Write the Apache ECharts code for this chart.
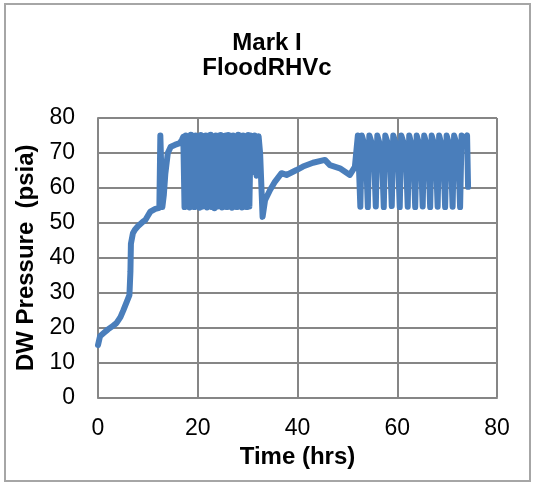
<!DOCTYPE html>
<html>
<head>
<meta charset="utf-8">
<script src="https://cdn.jsdelivr.net/npm/echarts@6/dist/echarts.min.js"></script>
<style>
  html, body { margin: 0; padding: 0; background: #fff; }
  #chart { width: 533px; height: 483px; }
</style>
</head>
<body>
<div id="chart"></div>
<script>
// Tiempo (hrs) y presion del drywell (psia)
const timeHrs = [
  0, 0.4, 1.2, 2.0, 3.0, 3.7, 4.5, 5.1, 5.8, 6.3, 6.5, 6.6, 7.0, 7.4, 8.0, 9.0, 9.5, 10.0, 10.5, 11.5, 12.3,
  12.5, 12.7, 12.9, 13.2, 13.5, 14.0, 14.6, 15.4, 16.4, 16.8, 17.1,
  17.35, 17.6, 17.85, 18.1, 18.35, 18.6, 18.85, 19.1, 19.35, 19.6, 19.85, 20.1, 20.35, 20.6, 20.85, 21.1,
  21.35, 21.6, 21.85, 22.1, 22.35, 22.6, 22.85, 23.1, 23.35, 23.6, 23.85, 24.1, 24.35, 24.6, 24.85, 25.1,
  25.35, 25.6, 25.85, 26.1, 26.35, 26.6, 26.85, 27.1, 27.35, 27.6, 27.85, 28.1, 28.35, 28.6, 28.85, 29.1,
  29.35, 29.6, 29.85, 30.1, 30.35, 30.6,
  31.0, 31.4, 31.8, 32.2, 32.5, 33.0,
  33.5, 34.5, 35.5, 36.8, 37.8, 39.8, 41.1, 43.1, 45.5, 46.5, 48.5, 50.5, 51.5,
  52.1, 52.6, 52.9, 53.7, 54.1, 54.4, 55.3, 55.7, 56.0, 56.9, 57.3, 57.6, 58.5, 58.9, 59.2, 60.1,
  60.5, 60.8, 61.7, 62.1, 62.4, 63.2, 63.6, 63.9, 64.7, 65.1, 65.4, 66.2, 66.6, 66.9, 67.7, 68.1,
  68.4, 69.2, 69.6, 69.9, 70.7, 71.1, 71.4, 72.2, 72.6, 72.9, 73.6, 74.0, 74.2
];
const pressure = [
  15.0, 17.5, 18.5, 19.5, 20.5, 21.3, 23.0, 25.0, 27.5, 29.3, 36.0, 44.0, 47.0, 48.0, 49.0, 50.3, 50.8, 52.0, 53.2, 54.0, 54.3,
  75.0, 75.0, 54.5, 58.0, 64.0, 70.0, 71.8, 72.3, 72.8, 73.7, 74.6,
  54.5, 75.0, 54.8, 74.8, 54.4, 75.2, 54.6, 74.9, 54.5, 75.0, 54.8, 74.7, 54.3, 75.1, 54.6, 74.8,
  54.9, 75.0, 54.4, 74.9, 54.7, 75.2, 54.5, 74.8, 54.2, 75.0, 54.6, 74.9, 54.8, 75.1, 54.4, 74.8,
  54.6, 75.0, 54.5, 75.1, 54.7, 74.9, 54.3, 75.0, 54.6, 74.8, 54.5, 75.2, 54.8, 74.9, 54.4, 75.0,
  54.6, 74.8, 54.5, 75.1, 54.7, 75.0,
  64.5, 75.0, 63.5, 74.8, 70.0, 51.7,
  56.5, 59.4, 61.8, 64.2, 63.7, 65.1, 66.1, 67.2, 68.0, 66.5, 65.6, 63.7, 66.0,
  75.0, 54.6, 75.0, 71.0, 54.5, 75.0, 71.0, 54.7, 75.0, 70.5, 54.5, 75.0, 71.0, 54.8, 75.0, 70.8,
  54.5, 75.0, 71.0, 54.6, 75.0, 70.5, 54.5, 75.0, 71.0, 54.7, 75.0, 70.8, 54.5, 75.0, 71.0, 54.6,
  75.0, 70.5, 54.5, 75.0, 71.0, 54.6, 75.0, 71.0, 54.5, 75.0, 74.0, 75.0, 60.3
];

const chart = echarts.init(document.getElementById('chart'));
const fontFam = '"Liberation Sans", Arial, sans-serif';

const option = {
  animation: false,
  backgroundColor: '#fff',
  title: {
    text: 'Mark I\nFloodRHVc',
    left: 262,
    textAlign: 'center',
    top: 26,
    textStyle: { fontFamily: fontFam, fontSize: 24, fontWeight: 'bold', color: '#000', lineHeight: 25 }
  },
  graphic: [{
    type: 'rect',
    shape: { x: 5, y: 4, width: 525, height: 477 },
    style: { fill: 'none', stroke: '#a6a6a6', lineWidth: 2 }
  }],
  grid: { left: 98, right: 36, top: 118, bottom: 85.5 },
  xAxis: {
    type: 'value',
    min: 0, max: 80, interval: 20,
    name: 'Time (hrs)',
    nameLocation: 'middle',
    nameGap: 46,
    nameTextStyle: { fontFamily: fontFam, fontSize: 24, fontWeight: 'bold', color: '#000' },
    axisLine: { show: true, lineStyle: { color: '#868686', width: 2 } },
    axisTick: { show: false },
    axisLabel: { fontFamily: fontFam, fontSize: 23, color: '#000', margin: 20 },
    splitLine: { show: true, lineStyle: { color: '#868686', width: 2 } }
  },
  yAxis: {
    type: 'value',
    min: 0, max: 80, interval: 10,
    name: 'DW Pressure  (psia)',
    nameLocation: 'middle',
    nameRotate: 90,
    nameGap: 58,
    nameTextStyle: { fontFamily: fontFam, fontSize: 24, fontWeight: 'bold', color: '#000' },
    axisLine: { show: true, lineStyle: { color: '#868686', width: 2 } },
    axisTick: { show: false },
    axisLabel: { fontFamily: fontFam, fontSize: 23, color: '#000', margin: 23 },
    splitLine: { show: true, lineStyle: { color: '#868686', width: 2 } }
  },
  series: [{
    type: 'line',
    data: timeHrs.map((t, i) => [t, pressure[i]]),
    showSymbol: false,
    lineStyle: { color: '#4a7ebb', width: 6, cap: 'round', join: 'round' }
  }]
};

chart.setOption(option);
</script>
</body>
</html>
